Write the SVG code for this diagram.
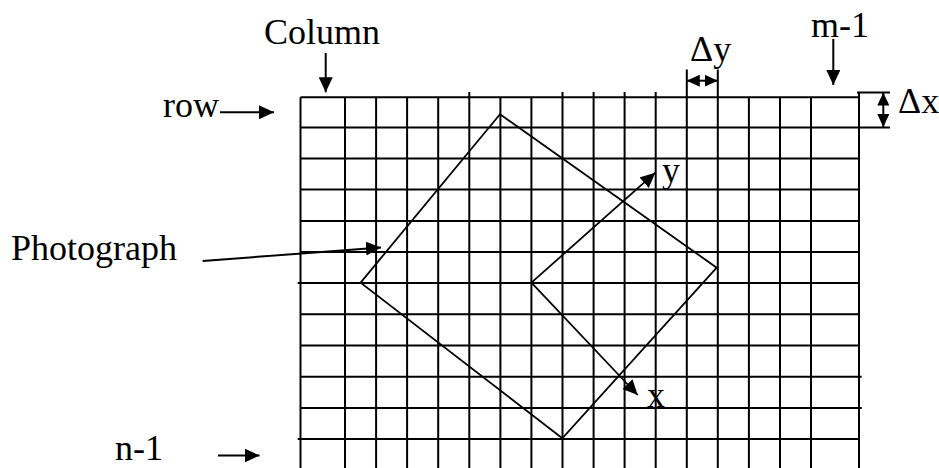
<svg xmlns="http://www.w3.org/2000/svg" width="939" height="468" viewBox="0 0 939 468">
<style>
text{font-family:"Liberation Serif","Times New Roman",serif;font-size:36px;fill:#000}
.g{stroke:#000;stroke-width:2;fill:none}
.p{stroke:#000;stroke-width:1.8;fill:none}
.a{stroke:#000;stroke-width:2;fill:none}
</style>
<defs>
<marker id="ah" markerUnits="userSpaceOnUse" markerWidth="16" markerHeight="14" refX="15" refY="7" orient="auto">
<path d="M0,0 L15,7 L0,14 Z" fill="#000"/>
</marker>
<marker id="as" markerUnits="userSpaceOnUse" markerWidth="14" markerHeight="12" refX="13" refY="6" orient="auto-start-reverse">
<path d="M0,0 L13,6 L0,12 Z" fill="#000"/>
</marker>
</defs>
<rect width="939" height="468" fill="#fff"/>
<g id="grid" class="g">
<path d="M300.5,97.3V468M345,97.3V468M376.1,97.3V468M407.1,97.3V468M438.2,97.3V468M469.3,92V468M500.4,97.3V468M531.4,97.3V468M562.5,92V468M593.6,92V468M624.6,92V468M655.7,92V468M686.8,69.5V468M717.8,69.5V468M748.9,97.3V468M780,97.3V468M811,97.3V468M859,92.5V468"/>
<path d="M300.5,97.3H859M300.5,127.5H890M300.5,158.5H859M300.5,189.5H859M300.5,221H859M300.5,252H859M297.7,283H859M300.5,314.3H859M300.5,345.5H859M300.5,376.8H861.7M300.5,408H861.7M297.7,439H859"/>
<path d="M857,92.5H890"/>
</g>
<g id="photograph" class="p">
<polygon points="500,114.3 360.6,282.6 562.3,438.3 716.7,267.7"/>
</g>
<g id="connectors">
<line id="column-arrow" class="a" x1="325.7" y1="53" x2="325.7" y2="92.3" marker-end="url(#ah)"/>
<line id="m1-arrow" class="a" x1="833.3" y1="39" x2="833.3" y2="85" marker-end="url(#ah)"/>
<line id="row-arrow" class="a" x1="220" y1="112.3" x2="274" y2="112.3" marker-end="url(#ah)"/>
<line id="n1-arrow" class="a" x1="218" y1="455.5" x2="259.5" y2="455.5" marker-end="url(#ah)"/>
<line id="photo-arrow" class="a" x1="202.7" y1="261" x2="381" y2="247.5" marker-end="url(#ah)"/>
<line id="y-axis" class="p" x1="531.4" y1="282.6" x2="655.3" y2="172.7" marker-end="url(#ah)"/>
<line id="x-axis" class="p" x1="531.4" y1="282.6" x2="637.7" y2="395" marker-end="url(#ah)"/>
<line id="dy-arrow" class="a" x1="686.8" y1="80.7" x2="717.8" y2="80.7" marker-start="url(#as)" marker-end="url(#as)"/>
<line id="dx-arrow" class="a" x1="883.3" y1="92.5" x2="883.3" y2="127" marker-start="url(#as)" marker-end="url(#as)"/>
</g>
<g id="labels">
<text id="t-column" x="264" y="44">Column</text>
<text id="t-m1" x="811" y="36.7">m-1</text>
<text id="t-row" x="163" y="117">row</text>
<text id="t-dy" x="690" y="61">Δy</text>
<text id="t-dx" x="898" y="113.3">Δx</text>
<text id="t-y" x="662" y="181.5">y</text>
<text id="t-x" x="647" y="406.7">x</text>
<text id="t-photo" x="11" y="260">Photograph</text>
<text id="t-n1" x="115" y="460">n-1</text>
</g>
</svg>
